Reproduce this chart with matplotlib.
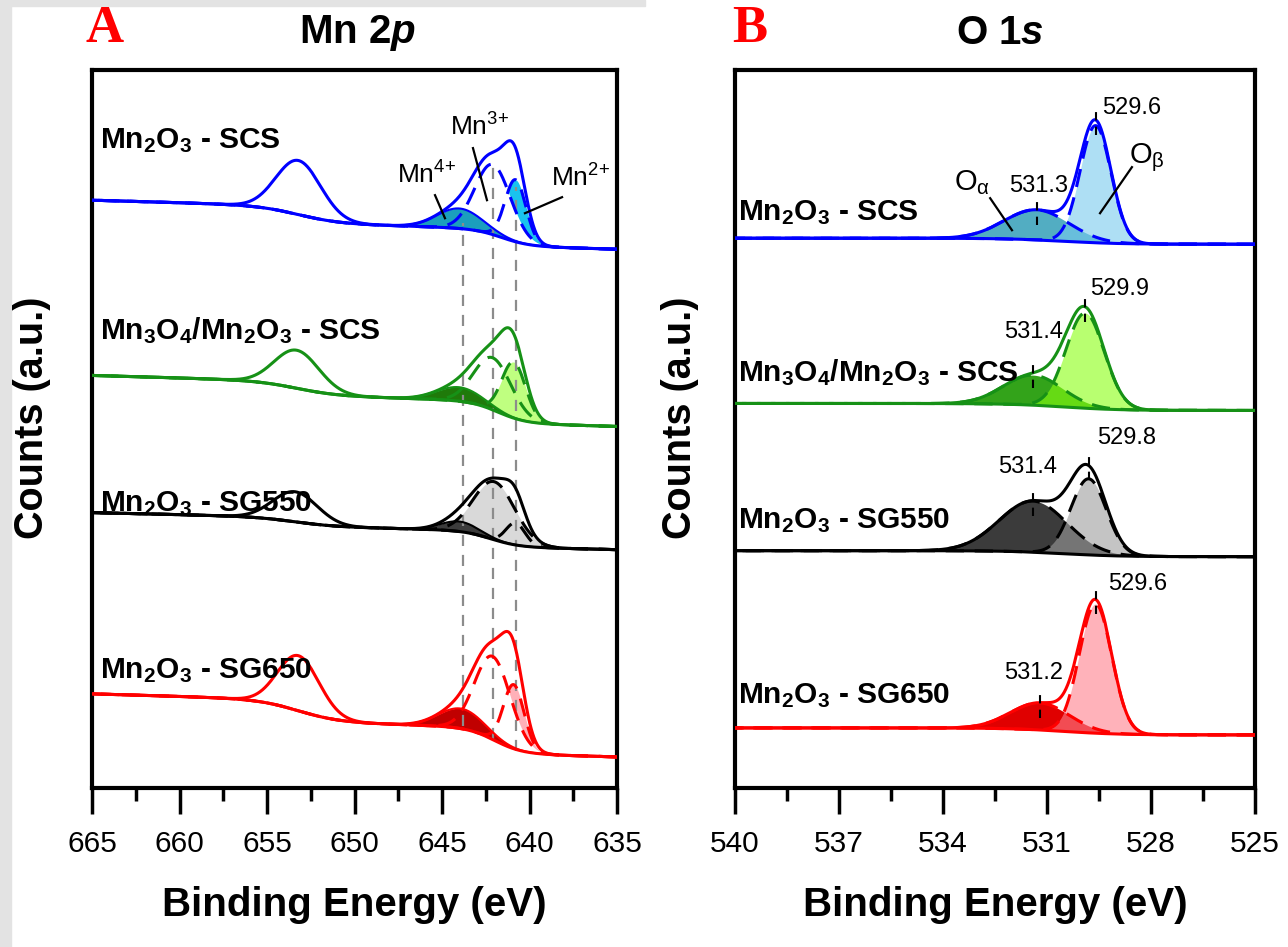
import numpy as np
import matplotlib
matplotlib.use("Agg")
import matplotlib.pyplot as plt
from matplotlib.ticker import MultipleLocator
from matplotlib.patches import Rectangle

plt.rcParams['font.family'] = ['Liberation Sans', 'DejaVu Sans']
plt.rcParams['mathtext.fontset'] = 'custom'
plt.rcParams['mathtext.rm'] = 'Liberation Sans'
plt.rcParams['mathtext.it'] = 'Liberation Sans:italic:bold'
plt.rcParams['mathtext.bf'] = 'Liberation Sans:bold'

# ---------------- data ----------------
sample_labels = [r'$\mathbf{Mn_2O_3}$ - SCS', r'$\mathbf{Mn_3O_4/Mn_2O_3}$ - SCS',
                 r'$\mathbf{Mn_2O_3}$ - SG550', r'$\mathbf{Mn_2O_3}$ - SG650']

# Mn 2p panel: binding energy (eV) and counts (a.u., stacked offsets)
mn_xticks = [665, 660, 655, 650, 645, 640, 635]
mn_bg_low = [538, 361, 238, 31]
mn_bg_slope = [0.5, 0.5, 0.4, 0.5]
mn_bg_step = [17, 22, 16, 26]          # Shirley step under 2p3/2
mn_bg_center = [641.6, 641.8, 642.2, 642.0]
mn_bg_step2 = [17, 14, 9, 22]          # Shirley step under 2p1/2
mn_p12_center = [653.2, 653.3, 653.4, 653.2]
mn_p12_height = [54, 38, 30, 55]
mn_p12_fwhm = [3.0, 3.0, 3.0, 2.8]
mn4_center = [644.0, 644.0, 644.0, 643.9]
mn4_height = [20, 14, 10, 20]
mn4_fwhm = [3.0, 3.0, 2.5, 3.0]
mn3_center = [642.1, 642.1, 642.0, 642.1]
mn3_height = [70, 52, 58, 83]
mn3_fwhm = [2.4, 2.5, 2.8, 2.4]
mn2_center = [640.8, 640.9, 640.8, 640.9]
mn2_height = [62, 56, 22, 64]
mn2_fwhm = [1.4, 1.6, 1.3, 1.4]
mn_ref_energy = [643.8, 642.1, 640.8]
mn_ref_top = [564, 622, 600]
mn_ref_bottom = [62, 49, 37]
mn_state_labels = [r'Mn$^{4{+}}$', r'Mn$^{3{+}}$', r'Mn$^{2{+}}$']

# O 1s panel
o_xticks = [540, 537, 534, 531, 528, 525]
o_bg_low = [543, 377, 231, 53]
o_bg_step = [6, 7, 6, 7]
oa_center = [531.3, 531.4, 531.4, 531.2]
oa_height = [30, 30, 51, 27]
oa_fwhm = [2.2, 2.0, 2.3, 2.0]
ob_center = [529.6, 529.9, 529.8, 529.6]
ob_height = [117, 95, 76, 129]
ob_fwhm = [1.05, 1.3, 1.2, 1.1]
o_labels = [r'O$_{\mathrm{\alpha}}$', r'O$_{\mathrm{\beta}}$']

# ---------------- styles ----------------
line_colors = ['#0000ff', '#169116', '#000000', '#ff0000']
mn4_fill = ['#1b9fbd', '#1f7a0a', '#3c3c3c', '#c00000']
mn3_fill = ['white', 'white', '#d9d9d9', 'white']
mn2_fill = ['#19c3ee', '#bfff80', None, '#ffb0b8']
mn2_on_top = [False, True, False, False]
oa_fill = ['#52adc2', '#33a31a', '#3b3b3b', '#e00000']
ob_fill = ['#78cbee', '#89ff11', '#9d9d9d', '#ff808c']
dash = (0, (6, 3.5))
LW = 2.2


def gauss(E, c, h, f):
    return h * np.exp(-4 * np.log(2) * (E - c) ** 2 / f ** 2)


def sig(x):
    return 1 / (1 + np.exp(-x))


fig = plt.figure(figsize=(12.88, 9.47), dpi=100)
W, H = 1288, 947
# screenshot edges
fig.patches.append(Rectangle((0, 0), 11 / W, 1, transform=fig.transFigure,
                             color='#e3e3e3', zorder=0))
fig.patches.append(Rectangle((0, 1 - 6 / H), 645 / W, 6 / H, transform=fig.transFigure,
                             color='#e3e3e3', zorder=0))

axL = fig.add_axes([92 / W, 1 - 788 / H, 525 / W, 718 / H])
axR = fig.add_axes([735 / W, 1 - 788 / H, 520 / W, 718 / H])

# ---------------- Mn 2p ----------------
E = np.linspace(635, 665, 1500)
for i in range(4):
    col = line_colors[i]
    b = (mn_bg_low[i] + mn_bg_slope[i] * (E - 635)
         + mn_bg_step[i] * sig((E - mn_bg_center[i]) / 0.8)
         + mn_bg_step2[i] * sig((E - mn_p12_center[i]) / 1.2))
    p12 = gauss(E, mn_p12_center[i], mn_p12_height[i], mn_p12_fwhm[i])
    c4 = gauss(E, mn4_center[i], mn4_height[i], mn4_fwhm[i])
    c3 = gauss(E, mn3_center[i], mn3_height[i], mn3_fwhm[i])
    c2 = gauss(E, mn2_center[i], mn2_height[i], mn2_fwhm[i])
    env = b + p12 + c4 + c3 + c2
    z2 = 3.3 if mn2_on_top[i] else 2.8
    if mn2_fill[i] is not None:
        axL.fill_between(E, b, b + c2, color=mn2_fill[i], lw=0, zorder=z2)
    axL.fill_between(E, b, b + c3, color=mn3_fill[i], lw=0, zorder=3)
    axL.fill_between(E, b, b + c4, color=mn4_fill[i], lw=0, zorder=3.5)
    axL.plot(E, b + c4, color=col, lw=1.5, zorder=5)
    axL.plot(E, b + c3, color=col, lw=LW, ls=dash, zorder=5)
    axL.plot(E, b + c2, color=col, lw=LW, ls=dash, zorder=5)
    axL.plot(E, b, color=col, lw=LW, zorder=6)
    axL.plot(E, env, color=col, lw=LW, zorder=6)

for x, t, bt in zip(mn_ref_energy, mn_ref_top, mn_ref_bottom):
    axL.plot([x, x], [bt, t], color='#8c8c8c', lw=1.6, ls=(0, (5, 4)), zorder=4)

# Mn oxidation state annotations (layout)
ann_text = [(645.86, 612), (642.83, 660), (637.1, 609)]
ann_line = [((645.4, 592), (644.83, 569)), ((643.23, 639), (642.43, 587)),
            ((638.14, 590), (640.26, 574))]
for lab, (tx, ty), (p0, p1) in zip(mn_state_labels, ann_text, ann_line):
    axL.text(tx, ty, lab, fontsize=19, ha='center', va='center', zorder=8)
    axL.plot([p0[0], p1[0]], [p0[1], p1[1]], color='black', lw=1.6, zorder=8)

mn_label_y = [0.902, 0.637, 0.396, 0.163]
for lab, y in zip(sample_labels, mn_label_y):
    axL.text(0.016, y, lab, transform=axL.transAxes, fontsize=21.5, fontweight='bold',
             ha='left', va='center', zorder=8)

axL.set_xlim(665, 635)
axL.set_xticks(mn_xticks)
axL.xaxis.set_minor_locator(MultipleLocator(2.5))

# ---------------- O 1s ----------------
E2 = np.linspace(525, 540, 1500)
beta_txt_dx = [0.2, 0.15, 0.25, 0.35]
beta_txt_dy = [12, 18, 27, 15]
alpha_txt_dx = [0.05, 0.0, -0.15, -0.18]
alpha_txt_dy = [24, 41, 33, 30]
for i in range(4):
    col = line_colors[i]
    b = o_bg_low[i] + o_bg_step[i] * sig((E2 - 530.5) / 0.8)
    ca = gauss(E2, oa_center[i], oa_height[i], oa_fwhm[i])
    cb = gauss(E2, ob_center[i], ob_height[i], ob_fwhm[i])
    env = b + ca + cb
    axR.fill_between(E2, b, b + ca, color=oa_fill[i], lw=0, zorder=3)
    axR.fill_between(E2, b, b + cb, color=ob_fill[i], alpha=0.6, lw=0, zorder=3.5)
    axR.plot(E2, b + ca, color=col, lw=LW, ls=dash, zorder=5)
    axR.plot(E2, b + cb, color=col, lw=LW, ls=dash, zorder=5)
    axR.plot(E2, b, color=col, lw=LW, zorder=6)
    axR.plot(E2, env, color=col, lw=LW, zorder=6)
    # peak position markers and labels
    yb = np.interp(ob_center[i], E2, env)
    ya = np.interp(oa_center[i], E2, env)
    axR.plot([ob_center[i]] * 2, [yb - 15, yb + 10], color='black', lw=1.5,
             ls=(0, (4, 3)), zorder=7)
    axR.plot([oa_center[i]] * 2, [ya - 15, ya + 12], color='black', lw=1.5,
             ls=(0, (4, 3)), zorder=7)
    axR.text(ob_center[i] - beta_txt_dx[i], yb + beta_txt_dy[i], f'{ob_center[i]:.1f}',
             fontsize=17, ha='left', va='center', zorder=8)
    axR.text(oa_center[i] - alpha_txt_dx[i], ya + alpha_txt_dy[i], f'{oa_center[i]:.1f}',
             fontsize=17, ha='center', va='center', zorder=8)

# O alpha / O beta annotations (layout)
axR.text(533.16, 605, o_labels[0], fontsize=21, ha='center', va='center', zorder=8)
axR.plot([532.64, 532.01], [589, 557], color='black', lw=1.6, zorder=8)
axR.text(528.12, 629, o_labels[1], fontsize=21, ha='center', va='center', zorder=8)
axR.plot([528.55, 529.47], [620, 574], color='black', lw=1.6, zorder=8)

o_label_y = [0.802, 0.579, 0.372, 0.128]
for lab, y in zip(sample_labels, o_label_y):
    axR.text(0.006, y, lab, transform=axR.transAxes, fontsize=21.5, fontweight='bold',
             ha='left', va='center', zorder=8)

axR.set_xlim(540, 525)
axR.set_xticks(o_xticks)
axR.xaxis.set_minor_locator(MultipleLocator(1.5))

# ---------------- common axes style ----------------
for ax in (axL, axR):
    ax.set_ylim(0, 717)
    for sp in ax.spines.values():
        sp.set_linewidth(3)
    ax.tick_params(axis='x', which='major', direction='out', length=19, width=2.5,
                   labelsize=21.5, pad=11)
    ax.tick_params(axis='x', which='minor', direction='out', length=9.5, width=2.5)
    ax.tick_params(axis='y', which='both', left=False, labelleft=False)

# axis labels, titles, panel letters
fig.text((92 + 262) / W, 1 - 905 / H, 'Binding Energy (eV)', fontsize=29,
         fontweight='bold', ha='center', va='center')
fig.text((735 + 260) / W, 1 - 905 / H, 'Binding Energy (eV)', fontsize=29,
         fontweight='bold', ha='center', va='center')
fig.text(32 / W, 1 - 418 / H, 'Counts (a.u.)', fontsize=28.5, fontweight='bold',
         rotation=90, ha='center', va='center')
fig.text(680 / W, 1 - 418 / H, 'Counts (a.u.)', fontsize=28.5, fontweight='bold',
         rotation=90, ha='center', va='center')
fig.text(357 / W, 1 - 33 / H, r'Mn 2$\mathit{p}$', fontsize=29, fontweight='bold',
         ha='center', va='center')
fig.text(1000 / W, 1 - 33 / H, r'O 1$\mathit{s}$', fontsize=29, fontweight='bold',
         ha='center', va='center')
fig.text(105 / W, 1 - 29 / H, 'A', fontsize=38, fontweight='bold', color='#ff0000',
         family='Liberation Serif', ha='center', va='center')
fig.text(750 / W, 1 - 29 / H, 'B', fontsize=38, fontweight='bold', color='#ff0000',
         family='Liberation Serif', ha='center', va='center')

fig.savefig('out.png', dpi=100)
